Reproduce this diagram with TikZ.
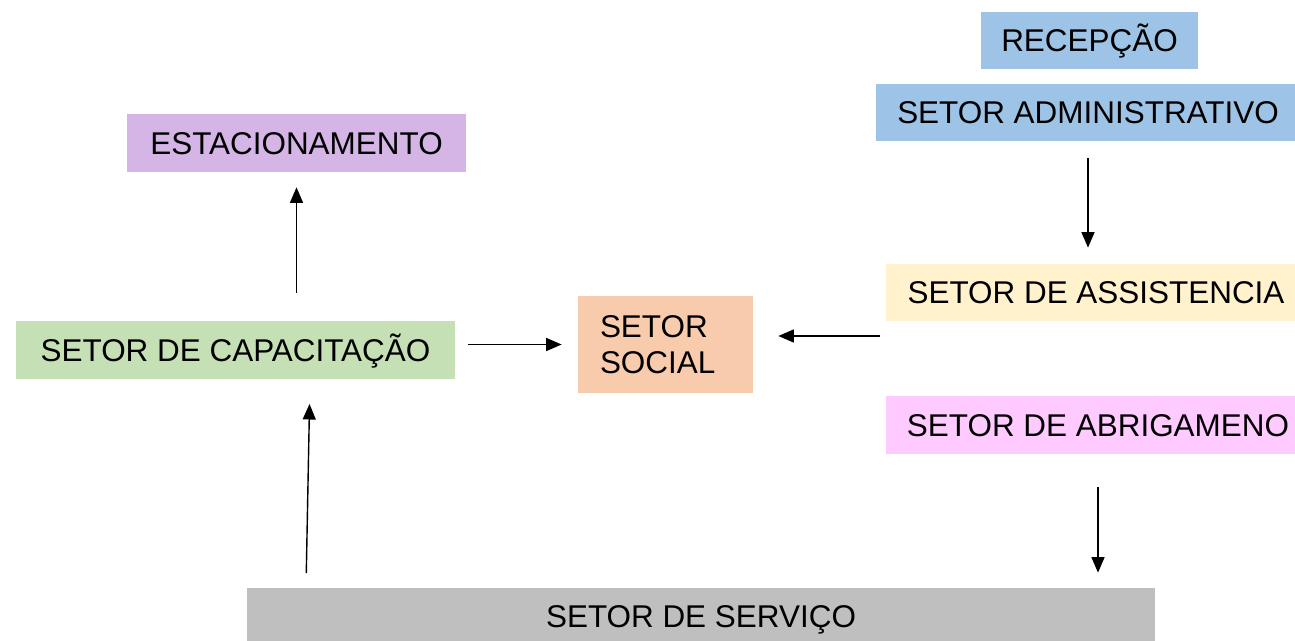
\documentclass[tikz,border=0pt]{standalone}
\usepackage{fontspec}
\setmainfont{Liberation Sans}
\usepackage{tikz}
\usetikzlibrary{arrows.meta}
\definecolor{recblue}{RGB}{157,195,230}
\definecolor{estpurple}{RGB}{213,180,230}
\definecolor{capgreen}{RGB}{197,224,180}
\definecolor{socpeach}{RGB}{248,203,173}
\definecolor{assyellow}{RGB}{255,242,204}
\definecolor{abrpink}{RGB}{255,202,255}
\definecolor{sergray}{RGB}{191,191,191}

\begin{document}
\begin{tikzpicture}[x=0.02cm, y=-0.02cm,
    setor/.style={inner sep=0pt, minimum height=11.4mm,
        font=\fontsize{17.9}{20.2}\selectfont, text height=12.8pt, text depth=0pt},
    seta/.style={-{Triangle[length=3.1mm,width=2.6mm]}, line width=0.8pt}]
        \useasboundingbox (0,0) rectangle (1295,641);
        \clip (0,0) rectangle (1295,641);
        % caixas
        \node[setor, fill=recblue, minimum width=43.4mm] (rec) at (1089.5,40.5) {RECEPÇÃO};
        \node[setor, fill=recblue, minimum width=84.8mm] (adm) at (1088,112.5) {SETOR ADMINISTRATIVO};
        \node[setor, fill=estpurple, minimum width=67.8mm, minimum height=11.6mm] (est) at (296.5,143) {ESTACIONAMENTO};
        \node[setor, fill=capgreen, minimum width=87.8mm, minimum height=11.6mm] (cap) at (235.5,350) {SETOR DE CAPACITAÇÃO};
        \node[fill=socpeach, inner xsep=4.4mm, inner ysep=0pt, text width=26.2mm, align=left,
            minimum height=19.4mm, font=\fontsize{17.9}{20.2}\selectfont] (soc) at (665.5,344.5) {SETOR\\SOCIAL};
        \node[setor, fill=assyellow, minimum width=84mm] (ass) at (1096,292.5) {SETOR DE ASSISTENCIA};
        \node[setor, fill=abrpink, minimum width=84.8mm, minimum height=11.6mm] (abr) at (1098,425) {SETOR DE ABRIGAMENO};
        \node[setor, fill=sergray, minimum width=181.6mm] (ser) at (701,616.5) {SETOR DE SERVIÇO};
        % setas
        \coordinate (assout) at (880,336);
        \coordinate (serup) at (306,588);
        \coordinate (capin) at (310,379);
        \draw[seta, shorten <=5.6mm, shorten >=3mm] (cap.north -| est.south) -- (est.south);
        \draw[seta, shorten <=2.6mm, shorten >=3.2mm] (cap.east |- soc.west) -- (soc.west);
        \draw[seta, shorten >=5mm] (assout) -- (soc.east |- assout);
        \draw[seta, shorten <=3.4mm, shorten >=3.2mm] (adm.south) -- (adm.south |- ass.north);
        \draw[seta, shorten <=6.6mm, shorten >=3mm] (abr.south) -- (abr.south |- ser.north);
        \draw[seta, shorten <=3mm, shorten >=5mm] (serup) -- (capin);
\end{tikzpicture}
\end{document}
